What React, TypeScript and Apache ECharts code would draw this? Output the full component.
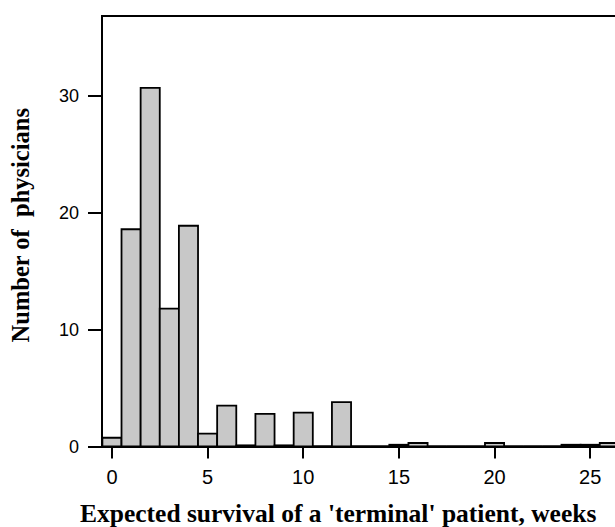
import React, { useEffect, useRef } from "react";
import * as echarts from "echarts";

const binCenters = [0, 1, 2, 3, 4, 5, 6, 7, 8, 9, 10, 11, 12, 13, 14, 15, 16, 17, 18, 19, 20, 21, 22, 23, 24, 25, 26];
const counts = [0.75, 18.6, 30.7, 11.8, 18.9, 1.1, 3.5, 0.1, 2.8, 0.1, 2.9, 0, 3.8, 0, 0, 0.15, 0.3, 0, 0, 0, 0.3, 0, 0, 0, 0.15, 0.15, 0.3];
const xTicks = [0, 5, 10, 15, 20, 25];
const yTicks = [0, 10, 20, 30];
const xTitle = "Expected survival of a 'terminal' patient, weeks";
const yTitle = "Number of  physicians";

export default function App() {
  const ref = useRef<HTMLDivElement>(null);
  useEffect(() => {
    if (!ref.current) return;
    const chart = echarts.init(ref.current, null, { renderer: "svg" });
    const data = binCenters.map((c, i) => [c, counts[i]]);
    chart.setOption({
      animation: false,
      backgroundColor: "#fff",
      title: {
        text: xTitle,
        left: 80,
        top: 500,
        padding: 0,
        textStyle: { fontFamily: "Liberation Serif", fontWeight: "bold", fontSize: 25.5, lineHeight: 26, color: "#000" },
      },
      grid: {
        left: 100,
        top: 16,
        width: 538,
        height: 430.5,
        show: true,
        borderColor: "#000",
        borderWidth: 2,
        backgroundColor: "transparent",
      },
      xAxis: {
        type: "value",
        min: -0.52,
        max: 27.5,
        splitLine: { show: false },
        axisLine: { show: true, onZero: false, lineStyle: { color: "#000", width: 2 } },
        axisTick: { show: true, customValues: xTicks, length: 12, lineStyle: { color: "#000", width: 2 } },
        axisLabel: {
          customValues: xTicks,
          margin: 20,
          fontFamily: "Liberation Sans",
          fontSize: 20,
          color: "#000",
        },
      },
      yAxis: {
        type: "value",
        min: 0,
        max: 36.86,
        splitLine: { show: false },
        axisLine: { show: true, onZero: false, lineStyle: { color: "#000", width: 2 } },
        axisTick: { show: true, customValues: yTicks, length: 14, lineStyle: { color: "#000", width: 2 } },
        axisLabel: {
          customValues: yTicks,
          margin: 23,
          fontFamily: "Liberation Sans",
          fontSize: 18,
          color: "#000",
        },
        name: yTitle,
        nameLocation: "middle",
        nameGap: 69,
        nameRotate: 90,
        nameTextStyle: {
          fontFamily: "Liberation Serif",
          fontWeight: "bold",
          fontSize: 24.5,
          color: "#000",
          padding: [0, 0, 0, 12],
        },
      },
      series: [
        {
          type: "custom",
          data,
          renderItem: (params: any, api: any) => {
            const x = api.value(0);
            const v = api.value(1);
            const p0 = api.coord([x - 0.5, v]);
            const p1 = api.coord([x + 0.5, 0]);
            return {
              type: "rect",
              shape: { x: p0[0], y: p0[1], width: p1[0] - p0[0], height: p1[1] - p0[1] },
              style: { fill: "#c8c8c8", stroke: "#000", lineWidth: 1.8 },
            };
          },
        },
      ],
    });
    return () => chart.dispose();
  }, []);
  return (
    <div style={{ position: "absolute", left: 0, top: 0, width: 615, height: 527, overflow: "hidden" }}>
      <div ref={ref} style={{ width: 640, height: 527 }} />
    </div>
  );
}
